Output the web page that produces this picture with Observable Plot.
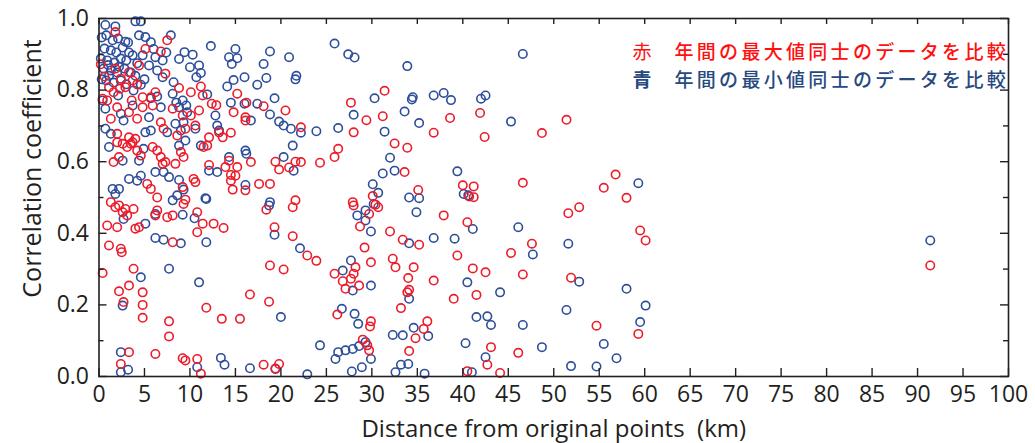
<!DOCTYPE html>
<html><head><meta charset="utf-8">
<script src="https://cdn.jsdelivr.net/npm/d3@7"></script>
<script src="https://cdn.jsdelivr.net/npm/@observablehq/plot@0.6"></script>
<style>body{margin:0;background:#fff}</style>
</head><body><div id="chart"></div>
<script>
// [distance km, correlation]
const bluePoints = [
[0.7,0.982],[1.8,0.978],[4.0,0.992],[4.6,0.992],
[0.3,0.947],[0.8,0.953],[1.5,0.939],[2.1,0.944],[0.6,0.916],[1.3,0.911],[1.9,0.905],[2.6,0.919],[3.2,0.933],[0.2,0.888],[0.9,0.883],[1.7,0.877],[2.4,0.888],[3.0,0.883],[3.7,0.897],[0.5,0.860],[1.3,0.855],[2.0,0.849],[2.8,0.860],[3.5,0.849],[0.8,0.827],[1.6,0.821],[2.4,0.827],[3.0,0.816],
[4.4,0.953],[5.1,0.948],[5.7,0.934],[4.8,0.897],[6.2,0.892],[7.0,0.883],[5.5,0.869],[6.4,0.855],[7.0,0.836],[7.9,0.953],[8.2,0.822],[8.1,0.79],
[0.4,0.771],[2.1,0.785],[3.8,0.799],[5.7,0.777],[6.4,0.782],[8.5,0.765],
[1.0,0.87],[2.2,0.865],[4.2,0.875],[4.0,0.84],[5.0,0.83],[3.3,0.905],[1.1,0.84],[6.0,0.915],[7.4,0.905],[4.6,0.815],[2.9,0.935],[0.3,0.83],
[0.7,0.748],[2.4,0.734],[3.7,0.757],[6.8,0.752],[2.7,0.715],[5.5,0.724],[8.4,0.706],[0.7,0.692],[1.3,0.678],[5.1,0.682],[5.7,0.687],[7.5,0.682],[1.1,0.641],[4.9,0.636],[2.6,0.603],[4.4,0.603],[6.2,0.571],[7.1,0.571],[7.7,0.557],[3.3,0.552],[4.2,0.547],[4.6,0.561],[1.5,0.524],[1.8,0.51],[2.2,0.524],[8.1,0.492],[8.6,0.506],
[2.7,0.44],[5.1,0.427],[6.2,0.454],[6.2,0.387],[7.1,0.382],[4.6,0.277],[7.7,0.301],[2.6,0.198],[2.4,0.068],[2.4,0.012],[3.2,0.019],
[12.3,0.923],[15.0,0.915],[14.3,0.892],[15.2,0.889],[14.6,0.873],[18.8,0.908],[20.9,0.892],[18.1,0.873],[9.4,0.906],[10.3,0.899],[8.8,0.887],[10.0,0.864],[11.0,0.869],[10.7,0.836],[11.2,0.848],[14.8,0.828],[14.1,0.81],[16.0,0.836],[17.4,0.815],[18.4,0.834],[19.3,0.777],[11.9,0.788],[14.5,0.765],[17.4,0.762],[16.0,0.762],[18.8,0.732],[19.8,0.712],[20.3,0.701],[21.1,0.692],[9.2,0.771],[9.6,0.757],[8.8,0.752],[9.7,0.738],[12.8,0.729],[13.0,0.701],[13.2,0.687],[16.7,0.715],[9.3,0.71],[10.6,0.692],[9.0,0.687],[9.5,0.659],[11.2,0.645],[8.8,0.645],[21.3,0.645],[14.3,0.613],[16.1,0.631],[16.2,0.622],[20.3,0.613],[12.1,0.575],[13.0,0.571],[21.4,0.575],[8.8,0.549],[9.3,0.522],[16.1,0.535],[11.7,0.498],
[11.8,0.496],[18.8,0.487],[18.7,0.478],[9.2,0.452],[10.5,0.442],[19.3,0.396],[9.0,0.372],[11.8,0.375],[11.0,0.263],[20.0,0.166],[13.4,0.052],[13.8,0.033],[10.8,0.026],[16.6,0.023],[19.4,0.021],
[25.9,0.930],[27.4,0.900],[28.1,0.891],[21.7,0.84],[21.6,0.83],[33.9,0.867],[30.3,0.777],[34.5,0.78],[34.4,0.774],[36.8,0.785],[37.9,0.792],[38.7,0.772],[28.0,0.731],[33.6,0.740],[35.2,0.708],[22.2,0.681],[23.9,0.685],[26.3,0.694],[31.4,0.684],[32.0,0.611],[31.2,0.567],[32.5,0.575],[39.4,0.573],[30.1,0.537],[30.7,0.513],[34.1,0.50],[35.2,0.498],[40.1,0.51],[40.6,0.506],
[30.2,0.482],[28.4,0.45],[29.3,0.464],[29.3,0.436],[34.9,0.459],[29.9,0.405],[34.1,0.372],[36.8,0.387],[39.1,0.385],[22.1,0.358],[27.7,0.324],[26.8,0.296],[29.9,0.254],[27.9,0.24],[34.1,0.217],[40.5,0.263],[26.7,0.189],[28.1,0.175],[28.5,0.147],[32.3,0.116],[33.4,0.115],[34.6,0.136],[36.2,0.113],[40.3,0.093],[24.3,0.087],[29.3,0.096],[28.6,0.085],[26.3,0.068],[27.1,0.073],[27.9,0.077],[26.0,0.049],[29.9,0.049],[28.9,0.026],[27.8,0.014],[33.2,0.033],[34.0,0.035],[32.6,0.012],[22.9,0.006],[35.8,0.008],[41.0,0.012],
[46.6,0.901],[42.0,0.776],[42.5,0.785],[45.3,0.712],[59.3,0.54],[46.1,0.417],[41.1,0.412],[51.6,0.371],[47.7,0.341],[52.8,0.265],[44.1,0.235],[58.0,0.245],[60.1,0.198],[51.4,0.186],[41.5,0.166],[42.7,0.168],[43.1,0.144],[46.6,0.144],[59.5,0.152],[48.7,0.082],[55.5,0.091],[42.5,0.054],[56.9,0.051],[51.9,0.029],[54.7,0.028],
[91.4,0.38]
];
const redPoints = [
[1.8,0.962],[5.1,0.915],[6.8,0.908],[4.4,0.869],[7.3,0.846],[3.3,0.85],[1.8,0.86],[1.1,0.808],[1.6,0.794],[4.8,0.78],[5.7,0.78],[6.2,0.794],[8.8,0.806],[7.5,0.939],[2.9,0.808],[0.4,0.776],[0.6,0.838],[2.4,0.832],[3.7,0.827],[2.3,0.804],[4.2,0.816],[0.2,0.872],[0.9,0.771],[3.6,0.771],
[2.0,0.752],[3.3,0.738],[4.8,0.752],[5.9,0.757],[8.1,0.748],[1.3,0.72],[4.2,0.72],[6.8,0.71],[2.0,0.678],[3.3,0.668],[3.7,0.654],[4.0,0.664],[7.1,0.692],[2.0,0.654],[2.6,0.65],[3.5,0.65],[4.2,0.631],[5.9,0.641],[2.2,0.613],[1.6,0.599],[4.6,0.617],[6.4,0.631],[6.8,0.613],[7.3,0.599],[7.0,0.594],[8.4,0.594],[5.3,0.538],[5.7,0.524],[6.4,0.50],[3.1,0.641],
[1.3,0.487],[1.8,0.473],[2.2,0.478],[2.9,0.468],[2.6,0.459],[3.8,0.468],[0.9,0.422],[2.0,0.417],[3.1,0.45],[4.0,0.413],[4.4,0.417],[6.2,0.45],[6.4,0.464],[7.5,0.445],[8.1,0.45],[8.1,0.375],[1.1,0.366],[2.4,0.357],[2.5,0.347],[0.4,0.289],[3.8,0.301],[3.3,0.254],[2.2,0.238],[4.8,0.235],[2.7,0.208],[4.8,0.2],[4.8,0.164],[7.7,0.154],[7.7,0.112],[3.3,0.068],[6.2,0.063],[2.4,0.035],
[10.1,0.794],[11.2,0.81],[11.4,0.785],[15.2,0.79],[16.2,0.765],[16.1,0.724],[16.1,0.715],[18.1,0.755],[20.5,0.743],[12.4,0.762],[12.9,0.758],[14.8,0.738],[10.1,0.729],[10.6,0.701],[11.0,0.743],[13.2,0.682],[14.5,0.681],[13.6,0.668],[12.1,0.668],[11.9,0.645],[9.2,0.729],[9.5,0.692],[8.6,0.673],[9.0,0.627],[9.3,0.613],[11.5,0.641],[14.3,0.603],[13.9,0.585],[15.2,0.585],[14.5,0.563],[12.1,0.591],[16.7,0.599],[19.4,0.60],[19.8,0.578],[10.4,0.552],[10.6,0.543],[14.5,0.547],[15.0,0.561],[16.1,0.52],[14.7,0.522],[17.6,0.538],[18.8,0.538],[9.2,0.529],[9.5,0.494],
[9.3,0.482],[10.8,0.459],[11.4,0.427],[10.8,0.403],[12.6,0.427],[13.7,0.415],[21.3,0.473],[18.4,0.466],[19.3,0.417],[21.3,0.392],[18.8,0.31],[20.3,0.299],[16.6,0.229],[18.7,0.209],[11.8,0.192],[13.5,0.161],[15.5,0.161],[9.2,0.051],[9.5,0.045],[10.8,0.049],[11.2,0.008],[18.1,0.033],[19.8,0.035],[19.4,0.022],
[31.4,0.798],[27.7,0.765],[29.4,0.716],[31.2,0.727],[38.6,0.722],[28.0,0.682],[36.8,0.681],[22.2,0.696],[32.5,0.651],[33.9,0.639],[26.3,0.636],[25.9,0.613],[21.6,0.60],[22.2,0.599],[24.3,0.597],[20.9,0.584],[33.6,0.571],[35.1,0.521],[30.1,0.504],[40.0,0.534],[41.2,0.531],
[21.6,0.492],[27.9,0.487],[28.0,0.478],[30.4,0.48],[30.7,0.473],[29.7,0.454],[28.7,0.419],[37.9,0.45],[40.5,0.431],[32.0,0.405],[33.4,0.382],[35.2,0.368],[29.2,0.36],[22.9,0.338],[23.9,0.323],[25.9,0.287],[28.2,0.305],[28.0,0.287],[27.7,0.273],[26.8,0.266],[27.1,0.245],[28.6,0.254],[29.9,0.319],[32.3,0.329],[32.6,0.305],[34.6,0.305],[34.0,0.275],[34.1,0.242],[33.9,0.235],[36.8,0.268],[39.4,0.338],[39.0,0.217],[33.2,0.191],[26.2,0.173],[29.9,0.154],[29.8,0.14],[36.1,0.154],[35.7,0.133],[34.8,0.107],[29.0,0.103],[29.5,0.087],[29.7,0.073],[34.1,0.071],[40.5,0.015],
[41.9,0.736],[42.4,0.669],[48.7,0.68],[51.4,0.717],[56.8,0.564],[55.5,0.527],[58.0,0.499],[46.6,0.541],[40.7,0.503],[41.2,0.501],[52.8,0.473],[51.6,0.456],[59.5,0.408],[60.1,0.38],[47.6,0.371],[45.3,0.345],[41.1,0.302],[42.5,0.291],[46.6,0.285],[51.9,0.276],[41.5,0.228],[54.7,0.142],[59.3,0.119],[43.1,0.082],[46.1,0.066],[42.7,0.033],[44.1,0.01],
[91.4,0.31]
];
const xTicks = [0,5,10,15,20,25,30,35,40,45,50,55,60,65,70,75,80,85,90,95,100];
const yMajor = [0,0.2,0.4,0.6,0.8,1.0];
const yMinor = [0.1,0.3,0.5,0.7,0.9];
const xLabel = "Distance from original points\u00a0 (km)";
const yLabel = "Correlation coefficient";
const legendKeys = ["赤","青"];
const legendTexts = ["年間の最大値同士のデータを比較","年間の最小値同士のデータを比較"];

const RED = "#ec1c2a", BLUE = "#2d4e9b";
const LRED = "#ff1010", LBLUE = "#28497f";
const W = 1035, H = 443, mL = 98.5, mR = 27, mT = 18, mB = 67;
const iW = W - mL - mR, iH = H - mT - mB;
const ink = "#231f20";
const latin = "'Open Sans', 'Noto Sans', sans-serif";
const cjk = "'Noto Sans CJK JP', sans-serif";

const chart = Plot.plot({
  width: W, height: H,
  marginLeft: mL, marginRight: mR, marginTop: mT, marginBottom: mB,
  style: {fontFamily: latin, background: "#fff", color: ink, overflow: "visible"},
  x: {domain: [0, 100], axis: null},
  y: {domain: [0, 1], axis: null},
  marks: [
    Plot.dot(bluePoints, {x: d => d[0], y: d => d[1], r: 4.2, stroke: BLUE, strokeWidth: 1.6, fill: "none"}),
    Plot.dot(redPoints, {x: d => d[0], y: d => d[1], r: 4.2, stroke: RED, strokeWidth: 1.6, fill: "none"}),
    Plot.frame({stroke: ink, strokeWidth: 1.6}),
    Plot.ruleX(xTicks, {x: d => d, insetTop: iH - 8, stroke: ink, strokeWidth: 1.4}),
    Plot.ruleX(xTicks, {x: d => d, insetBottom: iH - 6, stroke: ink, strokeWidth: 1.4}),
    Plot.ruleY(yMajor, {y: d => d, insetRight: iW - 8, stroke: ink, strokeWidth: 1.4}),
    Plot.ruleY(yMinor, {y: d => d, insetRight: iW - 5, stroke: ink, strokeWidth: 1.4}),
    Plot.ruleY(yMajor, {y: d => d, insetLeft: iW - 8, stroke: ink, strokeWidth: 1.4}),
    Plot.ruleY(yMinor, {y: d => d, insetLeft: iW - 5, stroke: ink, strokeWidth: 1.4}),
    Plot.text(xTicks, {x: d => d, frameAnchor: "bottom", dy: 25, text: d => String(d), fontSize: 23, fill: ink}),
    Plot.text(yMajor, {y: d => d, frameAnchor: "left", dx: -10, textAnchor: "end", text: d => d.toFixed(1), fontSize: 23, fill: ink}),
    Plot.text([xLabel], {frameAnchor: "bottom", dy: 60, textAnchor: "middle", text: d => d, fontSize: 24, fill: ink}),
    Plot.text([yLabel], {frameAnchor: "left", dx: -66, dy: -29, textAnchor: "middle", rotate: -90, text: d => d, fontSize: 25, fill: ink}),
    Plot.text([legendKeys[0]], {frameAnchor: "top-left", dx: 632 - mL, dy: 27, textAnchor: "start", text: d => d, fontSize: 19, fontFamily: cjk, fill: LRED}),
    Plot.text([legendKeys[1]], {frameAnchor: "top-left", dx: 632 - mL, dy: 55, textAnchor: "start", text: d => d, fontSize: 19, fontFamily: cjk, fill: LBLUE, fontWeight: 700}),
    Plot.text([legendTexts[0]], {frameAnchor: "top-right", dx: 0.5, dy: 27, textAnchor: "end", text: d => d, fontSize: 19, fontFamily: cjk, fill: LRED, fontWeight: 500}),
    Plot.text([legendTexts[1]], {frameAnchor: "top-right", dx: 0.5, dy: 55, textAnchor: "end", text: d => d, fontSize: 19, fontFamily: cjk, fill: LBLUE, fontWeight: 500})
  ]
});
d3.select(chart).selectAll("text").filter(function () { return this.textContent.includes("年間"); })
  .style("letter-spacing", "3.3px");
document.getElementById("chart").appendChild(chart);
</script>
</body></html>
